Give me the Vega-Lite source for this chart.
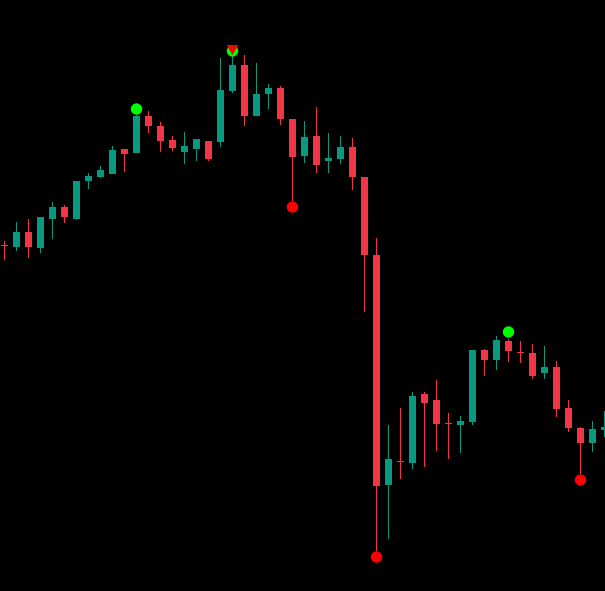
{
  "$schema": "https://vega.github.io/schema/vega-lite/v6.json",
  "width": 605,
  "height": 591,
  "autosize": {"type": "none"},
  "padding": 0,
  "background": "#000000",
  "config": {"view": {"stroke": null}},
  "datasets": {
    "candles": [
      {"i": 0, "open": 355, "high": 359, "low": 340, "close": 354},
      {"i": 1, "open": 353, "high": 378, "low": 349, "close": 368},
      {"i": 2, "open": 368, "high": 381, "low": 342, "close": 353},
      {"i": 3, "open": 352, "high": 383, "low": 347, "close": 383},
      {"i": 4, "open": 381, "high": 398, "low": 361, "close": 393},
      {"i": 5, "open": 393, "high": 395, "low": 377, "close": 383},
      {"i": 6, "open": 381, "high": 419, "low": 380, "close": 419},
      {"i": 7, "open": 419, "high": 427, "low": 411, "close": 424},
      {"i": 8, "open": 423, "high": 434, "low": 422, "close": 430},
      {"i": 9, "open": 426, "high": 454, "low": 426, "close": 450},
      {"i": 10, "open": 451, "high": 451, "low": 428, "close": 446},
      {"i": 11, "open": 447, "high": 485, "low": 447, "close": 484},
      {"i": 12, "open": 484, "high": 489, "low": 467, "close": 474},
      {"i": 13, "open": 474, "high": 478, "low": 448, "close": 459},
      {"i": 14, "open": 460, "high": 464, "low": 449, "close": 452},
      {"i": 15, "open": 448, "high": 468, "low": 436, "close": 454},
      {"i": 16, "open": 451, "high": 461, "low": 439, "close": 461},
      {"i": 17, "open": 459, "high": 459, "low": 439, "close": 441},
      {"i": 18, "open": 458, "high": 542, "low": 453, "close": 510},
      {"i": 19, "open": 509, "high": 544, "low": 507, "close": 535},
      {"i": 20, "open": 535, "high": 545, "low": 474, "close": 484},
      {"i": 21, "open": 484, "high": 537, "low": 484, "close": 506},
      {"i": 22, "open": 506, "high": 516, "low": 491, "close": 512},
      {"i": 23, "open": 512, "high": 514, "low": 475, "close": 481},
      {"i": 24, "open": 481, "high": 481, "low": 399, "close": 443},
      {"i": 25, "open": 444, "high": 479, "low": 437, "close": 463},
      {"i": 26, "open": 464, "high": 493, "low": 427, "close": 435},
      {"i": 27, "open": 439, "high": 467, "low": 427, "close": 442},
      {"i": 28, "open": 441, "high": 464, "low": 436, "close": 453},
      {"i": 29, "open": 453, "high": 462, "low": 410, "close": 423},
      {"i": 30, "open": 423, "high": 423, "low": 288, "close": 345},
      {"i": 31, "open": 345, "high": 362, "low": 49, "close": 114},
      {"i": 32, "open": 115, "high": 175, "low": 61, "close": 141},
      {"i": 33, "open": 139, "high": 192, "low": 121, "close": 138},
      {"i": 34, "open": 137, "high": 208, "low": 131, "close": 204},
      {"i": 35, "open": 206, "high": 208, "low": 133, "close": 197},
      {"i": 36, "open": 200, "high": 220, "low": 149, "close": 176},
      {"i": 37, "open": 177, "high": 187, "low": 141, "close": 176},
      {"i": 38, "open": 175, "high": 184, "low": 147, "close": 179},
      {"i": 39, "open": 178, "high": 250, "low": 175, "close": 250},
      {"i": 40, "open": 250, "high": 251, "low": 224, "close": 240},
      {"i": 41, "open": 240, "high": 264, "low": 230, "close": 260},
      {"i": 42, "open": 259, "high": 261, "low": 238, "close": 249},
      {"i": 43, "open": 248, "high": 259, "low": 237, "close": 247},
      {"i": 44, "open": 247, "high": 256, "low": 221, "close": 224},
      {"i": 45, "open": 227, "high": 254, "low": 221, "close": 233},
      {"i": 46, "open": 233, "high": 239, "low": 183, "close": 191},
      {"i": 47, "open": 192, "high": 200, "low": 168, "close": 172},
      {"i": 48, "open": 172, "high": 173, "low": 126, "close": 157},
      {"i": 49, "open": 157, "high": 179, "low": 148, "close": 171},
      {"i": 50, "open": 170, "high": 189, "low": 163, "close": 173}
    ],
    "markers": [
      {"i": 11, "price": 491, "kind": "high_dot"},
      {"i": 19, "price": 549, "kind": "high_dot"},
      {"i": 42, "price": 268, "kind": "high_dot"},
      {"i": 24, "price": 393, "kind": "low_dot"},
      {"i": 31, "price": 43, "kind": "low_dot"},
      {"i": 48, "price": 120, "kind": "low_dot"},
      {"i": 19, "price": 550, "kind": "sell_arrow"}
    ]
  },
  "layer": [
    {
      "data": {"name": "candles"},
      "mark": {"type": "rule", "strokeWidth": 1},
      "encoding": {
        "x": {"field": "i", "type": "quantitative", "scale": {"domain": [-0.375, 50.0417], "nice": false, "zero": false, "padding": 0}, "axis": null},
        "y": {"field": "low", "type": "quantitative", "scale": {"domain": [9, 600], "nice": false, "zero": false, "padding": 0}, "axis": null},
        "y2": {"field": "high"},
        "color": {"condition": {"test": "datum.close < datum.open", "value": "#F23645"}, "value": "#089981"}
      }
    },
    {
      "data": {"name": "candles"},
      "mark": {"type": "bar", "width": 7},
      "encoding": {
        "x": {"field": "i", "type": "quantitative", "scale": {"domain": [-0.375, 50.0417], "nice": false, "zero": false, "padding": 0}, "axis": null},
        "y": {"field": "open", "type": "quantitative", "scale": {"domain": [9, 600], "nice": false, "zero": false, "padding": 0}, "axis": null},
        "y2": {"field": "close"},
        "color": {"condition": {"test": "datum.close < datum.open", "value": "#F23645"}, "value": "#089981"}
      }
    },
    {
      "data": {"name": "markers"},
      "mark": {"type": "point", "filled": true, "opacity": 1, "size": 135},
      "encoding": {
        "x": {"field": "i", "type": "quantitative", "scale": {"domain": [-0.375, 50.0417], "nice": false, "zero": false, "padding": 0}, "axis": null},
        "y": {"field": "price", "type": "quantitative", "scale": {"domain": [9, 600], "nice": false, "zero": false, "padding": 0}, "axis": null},
        "shape": {"field": "kind", "type": "nominal", "scale": {"domain": ["high_dot", "low_dot", "sell_arrow"], "range": ["circle", "circle", "triangle-down"]}, "legend": null},
        "color": {"field": "kind", "type": "nominal", "scale": {"domain": ["high_dot", "low_dot", "sell_arrow"], "range": ["#00FF00", "#FF0000", "#FF0000"]}, "legend": null}
      }
    }
  ]
}
